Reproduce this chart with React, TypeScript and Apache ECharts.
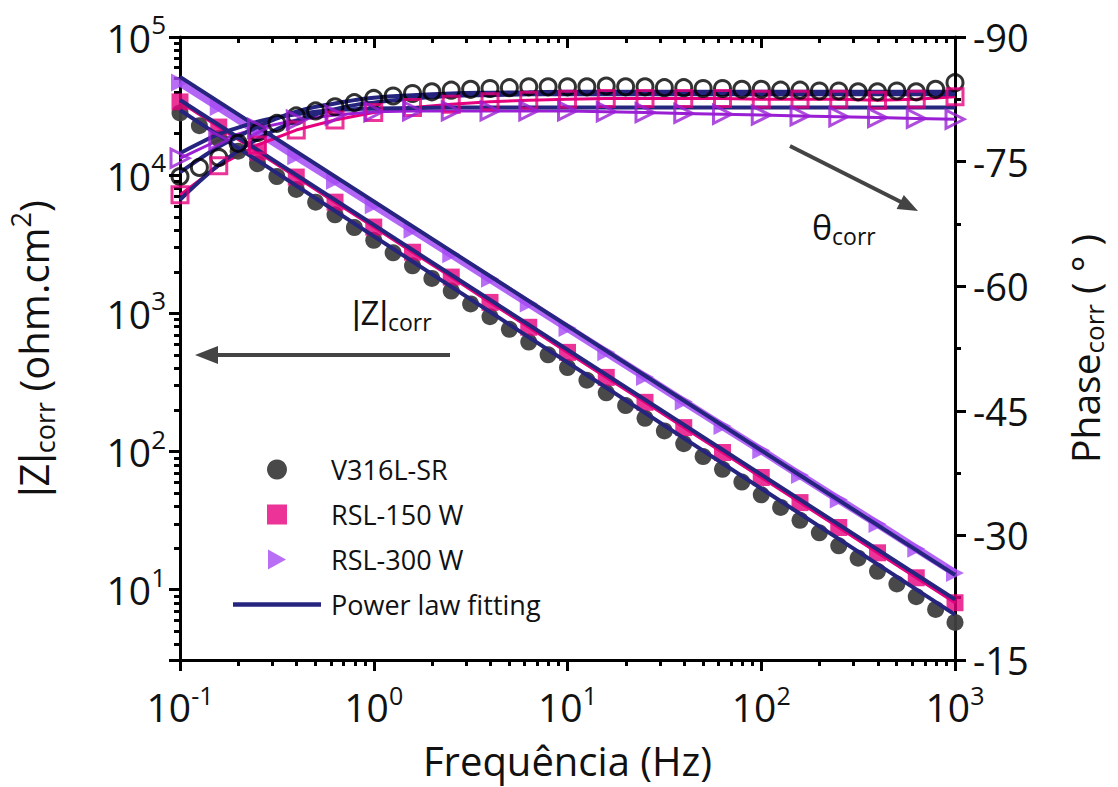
import React, { useEffect, useRef } from "react";
import * as echarts from "echarts";

// Frequencies (Hz)
const freqDense = [0.1, 0.1259, 0.1585, 0.1995, 0.2512, 0.3162, 0.3981, 0.5012, 0.631, 0.7943, 1, 1.259, 1.585, 1.995, 2.512, 3.162, 3.981, 5.012, 6.31, 7.943, 10, 12.59, 15.85, 19.95, 25.12, 31.62, 39.81, 50.12, 63.1, 79.43, 100, 125.9, 158.5, 199.5, 251.2, 316.2, 398.1, 501.2, 631, 794.3, 1000];
const freqSparse = [0.1, 0.1585, 0.2512, 0.3981, 0.631, 1, 1.585, 2.512, 3.981, 6.31, 10, 15.85, 25.12, 39.81, 63.1, 100, 158.5, 251.2, 398.1, 631, 1000];
const freqFit = [0.1, 0.1259, 0.1585, 0.1995, 0.2512, 0.3162, 0.3981, 0.5012, 0.631, 0.7943, 1, 1.585, 2.512, 3.981, 6.31, 10, 31.62, 100, 316.2, 1000];
const freqFitEnds = [0.1, 1000];

// |Z| (ohm.cm2)
const zV316L = [28200, 22800, 18400, 14900, 12100, 9770, 7890, 6380, 5170, 4180, 3380, 2740, 2210, 1790, 1450, 1170, 946, 766, 620, 501, 405, 328, 266, 215, 174, 141, 114, 91.9, 74.3, 60.1, 48.6, 39.4, 31.8, 25.8, 20.8, 16.9, 13.6, 11.0, 8.9, 7.2, 5.8];
const zRSL150 = [33900, 22300, 14700, 9690, 6380, 4210, 2770, 1830, 1200, 793, 522, 344, 227, 149, 98.4, 64.9, 42.7, 28.2, 18.5, 12.2, 8.05];
const zRSL300 = [46800, 31100, 20600, 13700, 9120, 6060, 4030, 2680, 1780, 1180, 785, 522, 347, 230, 153, 102, 67.6, 44.9, 29.9, 19.8, 13.2];
const zFitV316L = [29600, 6.6];
const zFitRSL150 = [35000, 8.5];
const zFitRSL300 = [51400, 12.8];

// Phase (deg)
const phV316L = [-73.2, -74.3, -75.5, -77.2, -78.5, -79.6, -80.5, -81.1, -81.6, -82.1, -82.6, -82.9, -83.2, -83.4, -83.6, -83.7, -83.8, -83.9, -84.0, -84.0, -84.0, -84.0, -84.1, -84.0, -84.0, -83.9, -83.9, -83.8, -83.8, -83.7, -83.7, -83.6, -83.6, -83.5, -83.5, -83.4, -83.4, -83.5, -83.4, -83.7, -84.5];
const phRSL150 = [-71.0, -74.5, -77.0, -78.8, -80.0, -80.9, -81.5, -81.9, -82.2, -82.4, -82.5, -82.6, -82.6, -82.6, -82.6, -82.5, -82.5, -82.5, -82.4, -82.5, -82.8];
const phRSL300 = [-75.4, -77.6, -79.0, -80.0, -80.6, -81.0, -81.1, -81.1, -81.1, -81.1, -81.1, -81.0, -80.9, -80.8, -80.7, -80.6, -80.5, -80.4, -80.3, -80.2, -80.1];
const phFitV316L = [-73.7, -75.3, -76.8, -78.0, -79.2, -80.2, -81.0, -81.6, -82.0, -82.4, -82.7, -83.0, -83.2, -83.3, -83.35, -83.4, -83.4, -83.4, -83.4, -83.4];
const phFitRSL150 = [-70.4, -72.6, -74.6, -76.3, -77.7, -78.9, -79.9, -80.7, -81.3, -81.8, -82.1, -82.6, -82.9, -83.0, -83.1, -83.1, -83.1, -83.1, -83.1, -83.1];
const phFitRSL300 = [-76.0, -77.2, -78.3, -79.1, -79.8, -80.3, -80.7, -81.0, -81.2, -81.3, -81.4, -81.45, -81.5, -81.5, -81.5, -81.5, -81.5, -81.5, -81.5, -81.5];

// Axis settings
const freqMin = 0.1;
const freqMax = 1000;
const zMin = 3.1;
const zMax = 100000;
const phaseTicks = { min: -90, max: -15, interval: 15 };
const legendNames = ["V316L-SR", "RSL-150 W", "RSL-300 W", "Power law fitting"];

const C_GRAY = "#3f3f3f";
const C_PINK = "#e6007e";
const C_PURPLE = "#a64bf4";
const C_PURPLE_DARK = "#9a1fd4";
const C_NAVY = "#25247f";
const FONT = "'Open Sans', 'Noto Sans', sans-serif";
const BAR_FONT = "'Liberation Sans', Arial, sans-serif";

const pairs = (xs: number[], ys: number[]) => xs.map((x, i) => [x, ys[i]]);

function minorLogTicks(lo: number, hi: number) {
  const out: number[] = [];
  for (let e = Math.floor(Math.log10(lo)); e <= Math.ceil(Math.log10(hi)); e++) {
    for (let m = 2; m <= 9; m++) {
      const v = m * Math.pow(10, e);
      if (v >= lo && v <= hi) out.push(Math.log10(v));
    }
  }
  return out;
}

function powLabel(v: number) {
  const e = Math.log10(v);
  const r = Math.round(e);
  if (Math.abs(e - r) > 0.01) return "";
  return "{b|10}{s|" + r + "}";
}

export default function App() {
  const ref = useRef<HTMLDivElement>(null);
  useEffect(() => {
    if (!ref.current) return;
    const chart = echarts.init(ref.current, undefined, { renderer: "svg" });
    const labelRich = {
      b: { fontSize: 39, fontFamily: FONT, color: "#111" },
      s: { fontSize: 26, fontFamily: FONT, color: "#111", padding: [0, 0, 26, 0] },
    };
    const xLabelRich = {
      b: { fontSize: 39, fontFamily: FONT, color: "#111" },
      s: { fontSize: 25, fontFamily: FONT, color: "#111", padding: [0, 0, 23, 0] },
    };
    const axisLineStyle = { color: "#000", width: 3 };
    const tickStyle = { color: "#000", width: 3 };
    const lx0 = Math.log10(freqMin), lx1 = Math.log10(freqMax);
    const ly0 = Math.log10(zMin), ly1 = Math.log10(zMax);
    const hiddenLine = { show: false, onZero: false };

    const option: any = {
      animation: false,
      backgroundColor: "#fff",
      grid: { left: 180, right: 163, top: 37, bottom: 127, containLabel: false, outerBoundsMode: "none" },
      legend: {
        orient: "vertical",
        left: 228,
        top: 451,
        itemWidth: 88,
        itemHeight: 20,
        itemGap: 18,
        symbolKeepAspect: true,
        data: [
          { name: legendNames[0], icon: "circle" },
          { name: legendNames[1], icon: "path://M0,0L10,0L10,10L0,10Z" },
          { name: legendNames[2], icon: "path://M0,0L9,5L0,10Z" },
          { name: legendNames[3], icon: "path://M0,0L88,0L88,4.5L0,4.5Z" },
        ],
        textStyle: { fontSize: 27, fontFamily: FONT, color: "#111", lineHeight: 26, padding: [0, 0, 0, 5] },
        selectedMode: false,
      },
      xAxis: [
        {
          type: "log", logBase: 10, min: freqMin, max: freqMax, position: "bottom",
          name: "Frequência (Hz)", nameLocation: "middle", nameGap: 80,
          nameTextStyle: { fontSize: 40, fontFamily: FONT, color: "#111" },
          axisLine: { show: true, onZero: false, lineStyle: axisLineStyle },
          axisTick: { show: true, inside: false, length: 11, lineStyle: tickStyle },
          axisLabel: { formatter: powLabel, rich: xLabelRich, margin: 22 },
          splitLine: { show: false },
        },
        {
          type: "value", min: lx0, max: lx1, position: "bottom",
          axisLine: hiddenLine,
          axisTick: { show: true, inside: false, length: 6, lineStyle: tickStyle, customValues: minorLogTicks(freqMin, freqMax) },
          axisLabel: { show: false }, splitLine: { show: false },
        },
        {
          type: "log", logBase: 10, min: freqMin, max: freqMax, position: "top",
          axisLine: { show: true, onZero: false, lineStyle: axisLineStyle },
          axisTick: { show: true, inside: true, length: 11, lineStyle: tickStyle },
          axisLabel: { show: false }, splitLine: { show: false },
        },
        {
          type: "value", min: lx0, max: lx1, position: "top",
          axisLine: hiddenLine,
          axisTick: { show: true, inside: true, length: 6, lineStyle: tickStyle, customValues: minorLogTicks(freqMin, freqMax) },
          axisLabel: { show: false }, splitLine: { show: false },
        },
      ],
      yAxis: [
        {
          type: "log", logBase: 10, min: zMin, max: zMax, position: "left",
          name: "{bar||}{a|Z}{bar||}{sub|corr}{a| (ohm.cm}{sup|2}{a|)}",
          nameLocation: "middle", nameGap: 120, nameRotate: 90,
          nameTextStyle: {
            rich: {
              a: { fontSize: 40, fontFamily: FONT, color: "#111" },
              bar: { fontSize: 40, fontFamily: BAR_FONT, color: "#111" },
              sub: { fontSize: 27, fontFamily: FONT, color: "#111", padding: [22, 0, 0, 0] },
              sup: { fontSize: 27, fontFamily: FONT, color: "#111", padding: [0, 0, 26, 0] },
            },
          },
          axisLine: { show: true, onZero: false, lineStyle: axisLineStyle },
          axisTick: { show: true, inside: false, length: 11, lineStyle: tickStyle },
          axisLabel: { formatter: powLabel, rich: labelRich, margin: 14 },
          splitLine: { show: false },
        },
        {
          type: "value", min: ly0, max: ly1, position: "left",
          axisLine: hiddenLine,
          axisTick: { show: true, inside: false, length: 6, lineStyle: tickStyle, customValues: minorLogTicks(zMin, zMax) },
          axisLabel: { show: false }, splitLine: { show: false },
        },
        {
          type: "value", inverse: true, min: phaseTicks.min, max: phaseTicks.max, interval: phaseTicks.interval,
          position: "right",
          name: "{a|Phase}{sub|corr}{a| ( ° )}",
          nameLocation: "middle", nameGap: 106, nameRotate: 90,
          nameTextStyle: {
            rich: {
              a: { fontSize: 39, fontFamily: FONT, color: "#111" },
              sub: { fontSize: 26, fontFamily: FONT, color: "#111", padding: [20, 0, 0, 0] },
            },
          },
          axisLine: { show: true, onZero: false, lineStyle: axisLineStyle },
          axisTick: { show: true, inside: false, length: 11, lineStyle: tickStyle },
          minorTick: { show: true, splitNumber: 2, length: 6, lineStyle: tickStyle },
          axisLabel: { fontSize: 38, lineHeight: 30, fontFamily: FONT, color: "#111", margin: 18 },
          splitLine: { show: false },
          minorSplitLine: { show: false },
        },
      ],
      series: [
        // |Z| data
        {
          name: "V316L-SR", type: "scatter", xAxisIndex: 0, yAxisIndex: 0, z: 2,
          symbol: "circle", symbolSize: 17, itemStyle: { color: C_GRAY, opacity: 0.95 },
          data: pairs(freqDense, zV316L),
        },
        {
          name: "RSL-150 W", type: "scatter", xAxisIndex: 0, yAxisIndex: 0, z: 2,
          symbol: "rect", symbolSize: 17, itemStyle: { color: C_PINK },
          data: pairs(freqSparse, zRSL150),
        },
        {
          name: "RSL-300 W", type: "scatter", xAxisIndex: 0, yAxisIndex: 0, z: 2,
          symbol: "triangle", symbolRotate: -90, symbolSize: 18, itemStyle: { color: C_PURPLE },
          data: pairs(freqSparse, zRSL300),
        },
        {
          name: "RSL-150 W line", type: "line", xAxisIndex: 0, yAxisIndex: 0, z: 2, symbol: "none",
          lineStyle: { color: C_PINK, width: 3 }, data: pairs(freqSparse, zRSL150),
        },
        {
          name: "RSL-300 W line", type: "line", xAxisIndex: 0, yAxisIndex: 0, z: 1, symbol: "none",
          lineStyle: { color: C_PURPLE, width: 8, opacity: 0.85 }, data: pairs(freqSparse, zRSL300),
        },
        // Phase data lines
        {
          name: "RSL-150 W line ph", type: "line", xAxisIndex: 0, yAxisIndex: 2, z: 2, symbol: "none",
          lineStyle: { color: C_PINK, width: 3 }, data: pairs(freqSparse, phRSL150),
        },
        {
          name: "RSL-300 W line ph", type: "line", xAxisIndex: 0, yAxisIndex: 2, z: 2, symbol: "none",
          lineStyle: { color: C_PURPLE_DARK, width: 3 }, data: pairs(freqSparse, phRSL300),
        },
        // Fits
        ...[zFitV316L, zFitRSL150, zFitRSL300].map((d) => ({
          name: "Power law fitting", type: "line", xAxisIndex: 0, yAxisIndex: 0, z: 3,
          symbol: "none", lineStyle: { color: C_NAVY, width: 4 }, itemStyle: { color: C_NAVY },
          data: pairs(freqFitEnds, d),
        })),
        ...[phFitV316L, phFitRSL150, phFitRSL300].map((d) => ({
          name: "Power law fitting", type: "line", xAxisIndex: 0, yAxisIndex: 2, z: 3, smooth: true,
          symbol: "none", lineStyle: { color: C_NAVY, width: 4 }, itemStyle: { color: C_NAVY },
          data: pairs(freqFit, d),
        })),
        // Phase hollow markers
        {
          name: "V316L-SR", type: "scatter", xAxisIndex: 0, yAxisIndex: 2, z: 4,
          symbol: "circle", symbolSize: 16,
          itemStyle: { color: "rgba(255,255,255,0)", borderColor: "#000", borderWidth: 3 },
          data: pairs(freqDense, phV316L),
        },
        {
          name: "RSL-150 W", type: "scatter", xAxisIndex: 0, yAxisIndex: 2, z: 4,
          symbol: "rect", symbolSize: 16,
          itemStyle: { color: "rgba(255,255,255,0)", borderColor: C_PINK, borderWidth: 3 },
          data: pairs(freqSparse, phRSL150),
        },
        {
          name: "RSL-300 W", type: "scatter", xAxisIndex: 0, yAxisIndex: 2, z: 4,
          symbol: "triangle", symbolRotate: -90, symbolSize: 18,
          itemStyle: { color: "rgba(255,255,255,0)", borderColor: C_PURPLE_DARK, borderWidth: 3 },
          data: pairs(freqSparse, phRSL300),
        },
      ],
      graphic: [
        { type: "line", shape: { x1: 790, y1: 146, x2: 903, y2: 203 }, style: { stroke: "#444", lineWidth: 4 }, z: 10 },
        { type: "polygon", shape: { points: [[918, 211], [896.6, 209.1], [903.8, 194.9]] }, style: { fill: "#444" }, z: 10 },
        {
          type: "text", x: 812, y: 206, z: 10,
          style: {
            text: "{a|θ}{b|corr}",
            rich: {
              a: { fontSize: 34, fontFamily: FONT, fill: "#111" },
              b: { fontSize: 23, fontFamily: FONT, fill: "#111", padding: [18, 0, 0, 0] },
            },
          },
        },
        {
          type: "text", x: 352, y: 292, z: 10,
          style: {
            text: "{bar||}{a|Z}{bar||}{b|corr}",
            rich: {
              a: { fontSize: 33, fontFamily: FONT, fill: "#111" },
              bar: { fontSize: 33, fontFamily: BAR_FONT, fill: "#111" },
              b: { fontSize: 23, fontFamily: FONT, fill: "#111", padding: [18, 0, 0, 0] },
            },
          },
        },
        { type: "line", shape: { x1: 450, y1: 355, x2: 214, y2: 355 }, style: { stroke: "#444", lineWidth: 4 }, z: 10 },
        { type: "polygon", shape: { points: [[195, 355], [218, 346], [218, 364]] }, style: { fill: "#444" }, z: 10 },
      ],
    };
    chart.setOption(option);
    return () => chart.dispose();
  }, []);
  return <div ref={ref} style={{ position: "fixed", left: 0, top: 0, width: 1118, height: 787, background: "#fff" }} />;
}
